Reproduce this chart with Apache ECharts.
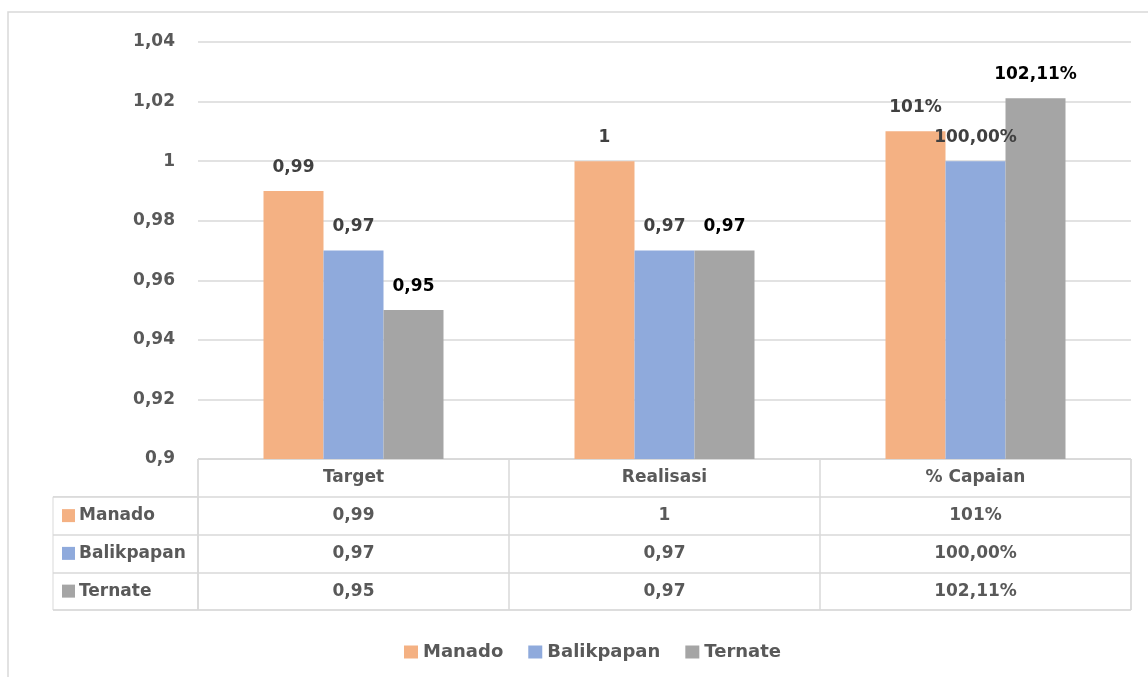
<!DOCTYPE html>
<html>
<head>
<meta charset="utf-8">
<script src="https://cdn.jsdelivr.net/npm/echarts@6/dist/echarts.min.js"></script>
<style>
html,body{margin:0;padding:0;background:#fff;}
#chart{width:1148px;height:677px;}
</style>
</head>
<body>
<div id="chart"></div>
<script>
const categories = ['Target', 'Realisasi', '% Capaian'];
const seriesNames = ['Manado', 'Balikpapan', 'Ternate'];
const manado = [0.99, 1, 1.01];
const balikpapan = [0.97, 0.97, 1.00];
const ternate = [0.95, 0.97, 1.0211];
const manadoLabels = ['0,99', '1', '101%'];
const balikpapanLabels = ['0,97', '0,97', '100,00%'];
const ternateLabels = ['0,95', '0,97', '102,11%'];
const yMin = 0.9, yMax = 1.04, yStep = 0.02;

const colors = ['#F4B183', '#8FAADC', '#A5A5A5'];
const labelColors = ['#404040', '#404040', '#000000'];
const FONT = 'DejaVu Sans';
const FS = 17;
const GRIDC = '#D9D9D9';
const TXT = '#595959';

const values = [manado, balikpapan, ternate];
const labels = [manadoLabels, balikpapanLabels, ternateLabels];

const tableTop = 459, tableH = 151, rowH = tableH / 4;

const fmtY = v => parseFloat(v.toFixed(2)).toString().replace('.', ',');

// table cells
const cellData = [];
categories.forEach((c) => cellData.push({ value: [c, 'hdr'], name: c }));
seriesNames.forEach((s, si) => {
  categories.forEach((c, ci) => cellData.push({ value: [c, s], name: labels[si][ci] }));
});

const rich = { t: { fontFamily: FONT, fontWeight: 'bold', fontSize: FS, color: TXT, padding: [0, 0, 0, 4] } };
seriesNames.forEach((s, i) => { rich['s' + i] = { width: 13, height: 13, backgroundColor: colors[i] }; });

const chart = echarts.init(document.getElementById('chart'));
chart.setOption({
  animation: false,
  backgroundColor: '#fff',
  textStyle: { fontFamily: FONT },
  graphic: [{
    type: 'rect', z: -10, silent: true,
    shape: { x: 8, y: 12, width: 1300, height: 800 },
    style: { fill: 'none', stroke: GRIDC, lineWidth: 1.5 }
  }],
  grid: [
    { left: 198, top: 42, width: 933, height: 417 },
    { left: 198, top: tableTop, width: 933, height: tableH, show: true, borderColor: GRIDC, borderWidth: 1 },
    { left: 53, top: tableTop + rowH, width: 145, height: tableH - rowH, show: true, borderColor: GRIDC, borderWidth: 1 }
  ],
  xAxis: [
    { type: 'category', gridIndex: 0, data: categories, axisLabel: { show: false }, axisTick: { show: false },
      axisLine: { show: true, lineStyle: { color: GRIDC } } },
    { type: 'category', gridIndex: 1, data: categories, axisLabel: { show: false }, axisTick: { show: false },
      axisLine: { show: false }, splitLine: { show: true, lineStyle: { color: GRIDC, width: 1.5 } } },
    { type: 'value', gridIndex: 2, show: false }
  ],
  yAxis: [
    { type: 'value', gridIndex: 0, min: yMin, max: yMax, interval: yStep,
      axisLine: { show: false }, axisTick: { show: false },
      splitLine: { lineStyle: { color: GRIDC, width: 1.5 } },
      axisLabel: { formatter: fmtY, fontFamily: FONT, fontWeight: 'bold', fontSize: FS, color: TXT, margin: 23 } },
    { type: 'category', gridIndex: 1, data: ['hdr'].concat(seriesNames), inverse: true,
      axisLabel: { show: false }, axisTick: { show: false }, axisLine: { show: false },
      splitLine: { show: true, lineStyle: { color: GRIDC, width: 1.5 } } },
    { type: 'category', gridIndex: 2, data: seriesNames, inverse: true,
      axisTick: { show: false }, axisLine: { show: false },
      splitLine: { show: true, lineStyle: { color: GRIDC, width: 1.5 } },
      axisLabel: { inside: true, margin: 9, formatter: (v, i) => '{s' + i + '|}{t|' + v + '}', rich: rich } }
  ],
  legend: {
    data: seriesNames, left: 399, top: 638, itemWidth: 14, itemHeight: 13, itemGap: 25, icon: 'rect',
    textStyle: { fontFamily: FONT, fontWeight: 'bold', fontSize: 18, color: TXT }
  },
  series: seriesNames.map((n, i) => ({
    name: n, type: 'bar', xAxisIndex: 0, yAxisIndex: 0, data: values[i],
    barWidth: 60, barGap: '0%',
    itemStyle: { color: colors[i] },
    label: { show: true, position: 'top', distance: 15, formatter: p => labels[i][p.dataIndex],
      fontFamily: FONT, fontWeight: 'bold', fontSize: FS, color: labelColors[i] }
  })).concat([{
    type: 'scatter', xAxisIndex: 1, yAxisIndex: 1, data: cellData, symbolSize: 1,
    itemStyle: { color: '#ffffff', opacity: 1 }, silent: true,
    label: { show: true, position: 'inside', formatter: '{b}', fontFamily: FONT, fontWeight: 'bold',
      fontSize: FS, color: TXT, opacity: 1, textBorderWidth: 0 }
  }])
});
</script>
</body>
</html>
